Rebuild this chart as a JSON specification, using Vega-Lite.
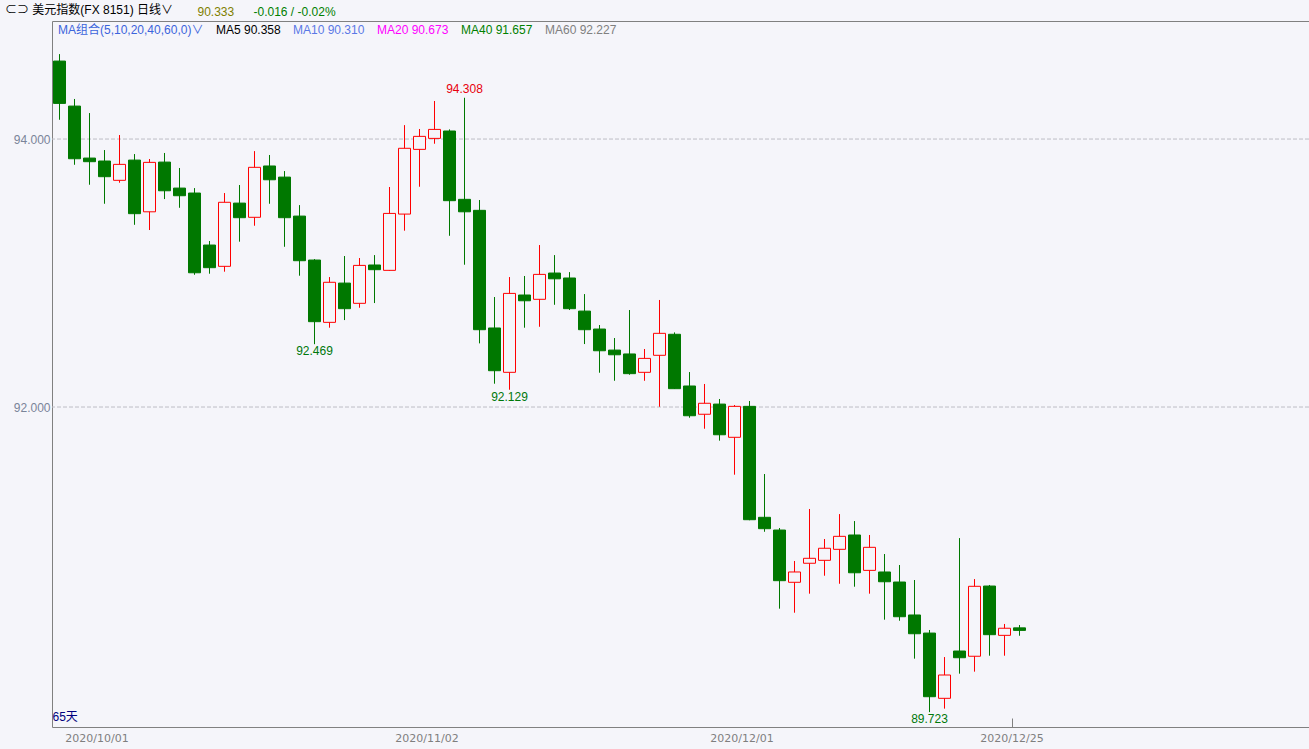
{
  "$schema": "https://vega.github.io/schema/vega-lite/v6.json",
  "autosize": {"type": "none"},
  "width": 1257,
  "height": 706,
  "padding": {"left": 52, "top": 21, "right": 0, "bottom": 22},
  "background": "#F5F5FA",
  "config": {
    "view": {"stroke": "#808080", "strokeWidth": 1},
    "font": "Liberation Sans, Noto Sans CJK SC",
    "text": {"font": "Liberation Sans, Noto Sans CJK SC"}
  },
  "title": {
    "text": "⊂⊃ 美元指数(FX 8151)  日线∨",
    "anchor": "start",
    "frame": "group",
    "dx": -47,
    "offset": -17,
    "baseline": "middle",
    "fontSize": 12,
    "fontWeight": "normal",
    "color": "#000000",
    "font": "Liberation Sans, Noto Sans CJK SC"
  },
  "datasets": {
    "candles": [
      {"date": "2020/09/28", "open": 94.582, "high": 94.634, "low": 94.144, "close": 94.266},
      {"date": "2020/09/29", "open": 94.246, "high": 94.299, "low": 93.808, "close": 93.853},
      {"date": "2020/09/30", "open": 93.858, "high": 94.194, "low": 93.659, "close": 93.831},
      {"date": "2020/10/01", "open": 93.836, "high": 93.918, "low": 93.517, "close": 93.719},
      {"date": "2020/10/02", "open": 93.692, "high": 94.030, "low": 93.674, "close": 93.811},
      {"date": "2020/10/05", "open": 93.843, "high": 93.888, "low": 93.360, "close": 93.443},
      {"date": "2020/10/06", "open": 93.457, "high": 93.851, "low": 93.321, "close": 93.826},
      {"date": "2020/10/07", "open": 93.828, "high": 93.896, "low": 93.552, "close": 93.614},
      {"date": "2020/10/08", "open": 93.634, "high": 93.784, "low": 93.487, "close": 93.577},
      {"date": "2020/10/09", "open": 93.597, "high": 93.634, "low": 92.987, "close": 93.002},
      {"date": "2020/10/12", "open": 93.209, "high": 93.239, "low": 92.995, "close": 93.040},
      {"date": "2020/10/13", "open": 93.050, "high": 93.597, "low": 93.010, "close": 93.528},
      {"date": "2020/10/14", "open": 93.522, "high": 93.657, "low": 93.234, "close": 93.413},
      {"date": "2020/10/15", "open": 93.416, "high": 93.910, "low": 93.353, "close": 93.789},
      {"date": "2020/10/16", "open": 93.799, "high": 93.881, "low": 93.517, "close": 93.696},
      {"date": "2020/10/19", "open": 93.716, "high": 93.761, "low": 93.196, "close": 93.413},
      {"date": "2020/10/20", "open": 93.425, "high": 93.507, "low": 92.980, "close": 93.092},
      {"date": "2020/10/21", "open": 93.097, "high": 93.104, "low": 92.469, "close": 92.637},
      {"date": "2020/10/22", "open": 92.632, "high": 92.970, "low": 92.592, "close": 92.931},
      {"date": "2020/10/23", "open": 92.925, "high": 93.127, "low": 92.649, "close": 92.734},
      {"date": "2020/10/26", "open": 92.774, "high": 93.112, "low": 92.741, "close": 93.057},
      {"date": "2020/10/27", "open": 93.060, "high": 93.134, "low": 92.776, "close": 93.025},
      {"date": "2020/10/28", "open": 93.020, "high": 93.642, "low": 93.016, "close": 93.445},
      {"date": "2020/10/29", "open": 93.440, "high": 94.104, "low": 93.316, "close": 93.931},
      {"date": "2020/10/30", "open": 93.923, "high": 94.075, "low": 93.644, "close": 94.020},
      {"date": "2020/11/02", "open": 94.005, "high": 94.284, "low": 93.965, "close": 94.072},
      {"date": "2020/11/03", "open": 94.060, "high": 94.072, "low": 93.278, "close": 93.540},
      {"date": "2020/11/04", "open": 93.550, "high": 94.308, "low": 93.062, "close": 93.457},
      {"date": "2020/11/05", "open": 93.468, "high": 93.545, "low": 92.475, "close": 92.577},
      {"date": "2020/11/06", "open": 92.590, "high": 92.821, "low": 92.174, "close": 92.271},
      {"date": "2020/11/09", "open": 92.259, "high": 92.970, "low": 92.129, "close": 92.848},
      {"date": "2020/11/10", "open": 92.836, "high": 92.978, "low": 92.592, "close": 92.793},
      {"date": "2020/11/11", "open": 92.804, "high": 93.209, "low": 92.599, "close": 92.990},
      {"date": "2020/11/12", "open": 93.000, "high": 93.134, "low": 92.763, "close": 92.957},
      {"date": "2020/11/13", "open": 92.963, "high": 93.007, "low": 92.724, "close": 92.734},
      {"date": "2020/11/16", "open": 92.716, "high": 92.843, "low": 92.470, "close": 92.577},
      {"date": "2020/11/17", "open": 92.582, "high": 92.612, "low": 92.256, "close": 92.420},
      {"date": "2020/11/18", "open": 92.425, "high": 92.515, "low": 92.196, "close": 92.390},
      {"date": "2020/11/19", "open": 92.396, "high": 92.724, "low": 92.241, "close": 92.249},
      {"date": "2020/11/20", "open": 92.259, "high": 92.433, "low": 92.196, "close": 92.363},
      {"date": "2020/11/23", "open": 92.386, "high": 92.799, "low": 92.002, "close": 92.550},
      {"date": "2020/11/24", "open": 92.543, "high": 92.557, "low": 92.135, "close": 92.137},
      {"date": "2020/11/25", "open": 92.157, "high": 92.261, "low": 91.920, "close": 91.935},
      {"date": "2020/11/26", "open": 91.946, "high": 92.172, "low": 91.838, "close": 92.028},
      {"date": "2020/11/27", "open": 92.022, "high": 92.060, "low": 91.749, "close": 91.793},
      {"date": "2020/11/30", "open": 91.774, "high": 92.015, "low": 91.495, "close": 92.005},
      {"date": "2020/12/01", "open": 92.005, "high": 92.045, "low": 91.155, "close": 91.159},
      {"date": "2020/12/02", "open": 91.177, "high": 91.500, "low": 91.069, "close": 91.092},
      {"date": "2020/12/03", "open": 91.082, "high": 91.097, "low": 90.495, "close": 90.704},
      {"date": "2020/12/04", "open": 90.692, "high": 90.851, "low": 90.465, "close": 90.769},
      {"date": "2020/12/07", "open": 90.834, "high": 91.239, "low": 90.607, "close": 90.871},
      {"date": "2020/12/08", "open": 90.856, "high": 91.015, "low": 90.741, "close": 90.946},
      {"date": "2020/12/09", "open": 90.938, "high": 91.201, "low": 90.681, "close": 91.035},
      {"date": "2020/12/10", "open": 91.045, "high": 91.149, "low": 90.659, "close": 90.763},
      {"date": "2020/12/11", "open": 90.781, "high": 91.045, "low": 90.607, "close": 90.953},
      {"date": "2020/12/14", "open": 90.769, "high": 90.903, "low": 90.413, "close": 90.696},
      {"date": "2020/12/15", "open": 90.694, "high": 90.821, "low": 90.405, "close": 90.435},
      {"date": "2020/12/16", "open": 90.448, "high": 90.709, "low": 90.122, "close": 90.308},
      {"date": "2020/12/17", "open": 90.313, "high": 90.336, "low": 89.723, "close": 89.838},
      {"date": "2020/12/18", "open": 89.826, "high": 90.134, "low": 89.749, "close": 90.000},
      {"date": "2020/12/21", "open": 90.179, "high": 91.022, "low": 90.010, "close": 90.129},
      {"date": "2020/12/22", "open": 90.140, "high": 90.716, "low": 90.025, "close": 90.662},
      {"date": "2020/12/23", "open": 90.664, "high": 90.672, "low": 90.144, "close": 90.301},
      {"date": "2020/12/24", "open": 90.296, "high": 90.381, "low": 90.144, "close": 90.349},
      {"date": "2020/12/25", "open": 90.352, "high": 90.373, "low": 90.293, "close": 90.333}
    ],
    "highs": [
      {"date": "2020/11/04", "price": 94.308}
    ],
    "lows": [
      {"date": "2020/10/21", "price": 92.469},
      {"date": "2020/11/09", "price": 92.129},
      {"date": "2020/12/17", "price": 89.723}
    ],
    "levels": [
      {"level": 92},
      {"level": 94}
    ],
    "ma": [
      {"label": "MA组合(5,10,20,40,60,0)∨"},
      {"label": "MA5 90.358"},
      {"label": "MA10 90.310"},
      {"label": "MA20 90.673"},
      {"label": "MA40 91.657"},
      {"label": "MA60 92.227"}
    ],
    "notes": [
      {"label": "65天"}
    ]
  },
  "layer": [
    {
      "data": {"name": "levels"},
      "mark": {"type": "rule", "strokeDash": [4, 2], "strokeWidth": 1, "color": "#BDBDC6"},
      "encoding": {
        "y": {"field": "level", "type": "quantitative"}
      }
    },
    {
      "data": {"name": "candles"},
      "mark": {"type": "rule", "strokeWidth": 1},
      "encoding": {
        "x": {
          "field": "date",
          "type": "ordinal",
          "sort": null,
          "scale": {"type": "band", "paddingInner": 0, "paddingOuter": 0, "range": [0, 975]},
          "axis": {
            "values": ["2020/10/01", "2020/11/02", "2020/12/01", "2020/12/25"],
            "bandPosition": 0,
            "labelAngle": 0,
            "labelOffset": -7.5,
            "labelColor": "#7F7F7F",
            "labelFont": "DejaVu Sans",
            "labelFontSize": 11,
            "labelPadding": 14,
            "ticks": true,
            "tickSize": -9,
            "tickColor": "#808080",
            "tickOpacity": {"condition": {"test": "datum.value === '2020/12/25'", "value": 1}, "value": 0},
            "domain": false,
            "grid": false,
            "title": "-0.016 / -0.02%",
            "titleColor": "#008000",
            "titleFont": "Liberation Sans, Noto Sans CJK SC",
            "titleFontSize": 12,
            "titleFontWeight": "normal",
            "titleAngle": 0,
            "titleAlign": "left",
            "titleBaseline": "middle",
            "titleX": 201,
            "titleY": -716
          }
        },
        "y": {
          "field": "low",
          "type": "quantitative",
          "scale": {"domain": [89.612, 94.881], "nice": false, "zero": false},
          "axis": {
            "values": [92, 94],
            "format": ".3f",
            "grid": false,
            "ticks": false,
            "domain": false,
            "labelColor": "#7A8499",
            "labelFont": "Liberation Sans",
            "labelFontSize": 12,
            "labelPadding": 2,
            "title": "90.333",
            "titleColor": "#808000",
            "titleFont": "Liberation Sans",
            "titleFontSize": 12,
            "titleFontWeight": "normal",
            "titleAngle": 0,
            "titleAlign": "left",
            "titleBaseline": "middle",
            "titleX": 145,
            "titleY": -10
          }
        },
        "y2": {"field": "high"},
        "color": {"condition": {"test": "datum.close > datum.open", "value": "#FF0000"}, "value": "#007800"}
      }
    },
    {
      "data": {"name": "candles"},
      "mark": {"type": "bar", "width": 12, "strokeWidth": 1},
      "encoding": {
        "x": {"field": "date", "type": "ordinal", "sort": null},
        "y": {"field": "open", "type": "quantitative"},
        "y2": {"field": "close"},
        "fill": {"condition": {"test": "datum.close > datum.open", "value": "#F5F5FA"}, "value": "#007800"},
        "stroke": {"condition": {"test": "datum.close > datum.open", "value": "#FF0000"}, "value": "#007800"}
      }
    },
    {
      "data": {"name": "highs"},
      "mark": {"type": "text", "baseline": "bottom", "dy": -2, "fontSize": 12, "color": "#E8000C"},
      "encoding": {
        "x": {"field": "date", "type": "ordinal", "sort": null},
        "y": {"field": "price", "type": "quantitative"},
        "text": {"field": "price", "type": "quantitative", "format": ".3f"}
      }
    },
    {
      "data": {"name": "lows"},
      "mark": {"type": "text", "baseline": "top", "dy": 2, "fontSize": 12, "color": "#00780A"},
      "encoding": {
        "x": {"field": "date", "type": "ordinal", "sort": null},
        "y": {"field": "price", "type": "quantitative"},
        "text": {"field": "price", "type": "quantitative", "format": ".3f"}
      }
    },
    {
      "data": {"name": "notes"},
      "mark": {"type": "text", "align": "left", "baseline": "bottom", "dx": -7, "dy": -3, "fontSize": 12, "color": "#000080"},
      "encoding": {
        "x": {"datum": "2020/09/28", "type": "ordinal"},
        "y": {"datum": 89.612, "type": "quantitative"},
        "text": {"field": "label", "type": "nominal"}
      }
    },
    {
      "data": {"name": "ma"},
      "mark": {"type": "point", "opacity": 0},
      "encoding": {
        "color": {
          "field": "label",
          "type": "nominal",
          "sort": null,
          "scale": {
            "domain": ["MA组合(5,10,20,40,60,0)∨", "MA5 90.358", "MA10 90.310", "MA20 90.673", "MA40 91.657", "MA60 92.227"],
            "range": ["#3C64DC", "#000000", "#5A78E6", "#FF00FF", "#008000", "#808080"]
          },
          "legend": {
            "title": null,
            "orient": "none",
            "legendX": -6,
            "legendY": 3,
            "direction": "horizontal",
            "columns": 6,
            "columnPadding": -4,
            "labelOffset": 0,
            "labelFont": "Liberation Sans, Noto Sans CJK SC",
            "labelFontSize": 12,
            "labelLimit": 400,
            "labelColor": {"expr": "scale('color', datum.value)"},
            "symbolSize": 0,
            "symbolOpacity": 0,
            "symbolStrokeWidth": 0,
            "padding": 0
          }
        }
      }
    }
  ]
}
